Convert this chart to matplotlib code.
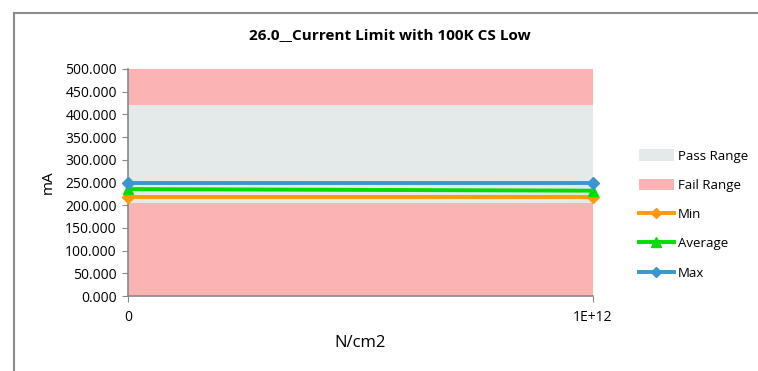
import matplotlib
matplotlib.use("Agg")
import matplotlib.pyplot as plt
from matplotlib.patches import Rectangle, Patch
from matplotlib.lines import Line2D

plt.rcParams['font.family'] = ['Open Sans', 'DejaVu Sans']

x = [0, 1e12]
x_labels = ["0", "1E+12"]
fail_low = [205, 205]
pass_top = [420, 420]
axis_top = [500, 500]
min_vals = [218, 218]
avg_vals = [235.5, 232]
max_vals = [248, 248]
yticks = [0, 50, 100, 150, 200, 250, 300, 350, 400, 450, 500]

W, H = 758, 371
fig = plt.figure(figsize=(W/100, H/100), dpi=100)
fig.patches.append(Rectangle((14/W, -0.01), 1.0, 1 - 13/H + 0.01, transform=fig.transFigure,
                             fill=False, edgecolor='#8c8c8c', linewidth=1.5))

ax = fig.add_axes([128/W, 1 - 296/H, (593-128)/W, (296-69)/H])
fail_c = '#FBB3B3'
pass_c = '#E4EAEA'
ax.fill_between(x, 0, fail_low, color=fail_c, linewidth=0)
ax.fill_between(x, fail_low, pass_top, color=pass_c, linewidth=0)
ax.fill_between(x, pass_top, axis_top, color=fail_c, linewidth=0)

ax.plot(x, min_vals, color='#FF9A00', lw=2.8, marker='D', ms=6, clip_on=False, zorder=5)
ax.plot(x, avg_vals, color='#00DD00', lw=2.8, marker='^', ms=7.5, clip_on=False, zorder=5)
ax.plot(x, max_vals, color='#3A97CC', lw=2.8, marker='D', ms=6, clip_on=False, zorder=6)

ax.set_xlim(0, 1e12)
ax.set_ylim(0, 500)
ax.set_yticks(yticks)
ax.set_yticklabels([f"{v:.3f}" for v in yticks])
ax.set_xticks(x)
ax.set_xticklabels(x_labels)
for s in ['top', 'right']:
    ax.spines[s].set_visible(False)
for s in ['left', 'bottom']:
    ax.spines[s].set_color('#888888')
    ax.spines[s].set_linewidth(1.2)
ax.tick_params(axis='y', direction='out', length=4, color='#888888', labelsize=10, pad=4)
ax.tick_params(axis='x', direction='out', length=4, color='#888888', labelsize=10, pad=6)
ax.set_ylabel('mA', fontsize=11, labelpad=7)
ax.set_xlabel('N/cm2', fontsize=12, labelpad=7)
fig.text(390/W, 1 - 35/H, '26.0__Current Limit with 100K CS Low', ha='center', va='center',
         fontsize=11, fontweight='bold')

handles = [Patch(facecolor=pass_c, edgecolor='none'),
           Patch(facecolor=fail_c, edgecolor='none'),
           Line2D([], [], color='#FF9A00', lw=2.8, marker='D', ms=5),
           Line2D([], [], color='#00DD00', lw=2.8, marker='^', ms=6.5),
           Line2D([], [], color='#3A97CC', lw=2.8, marker='D', ms=5)]
labels = ['Pass Range', 'Fail Range', 'Min', 'Average', 'Max']
fig.legend(handles, labels, loc='upper left', bbox_to_anchor=(634/W, 1 - 144/H),
           frameon=False, fontsize=9.5, handlelength=2.6, handleheight=1.0,
           labelspacing=1.2, handletextpad=0.3, borderaxespad=0)

fig.savefig('out.png', dpi=100)
